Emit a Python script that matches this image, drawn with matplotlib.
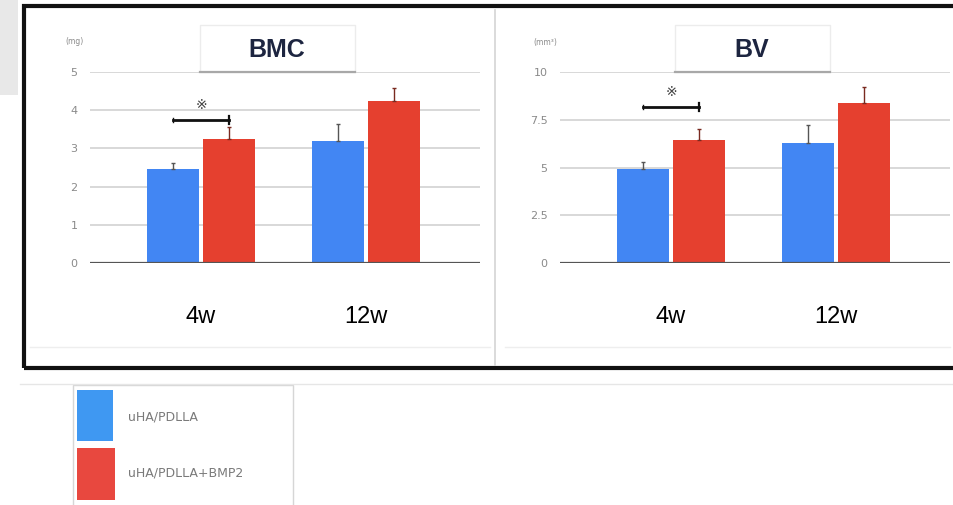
import matplotlib
matplotlib.use('Agg')
import matplotlib.pyplot as plt
from matplotlib.patches import Rectangle
from matplotlib.lines import Line2D
import numpy as np

W, H = 954, 505

groups = ['4w', '12w']
series = ['uHA/PDLLA', 'uHA/PDLLA+BMP2']

bmc_a = [2.45, 3.2]
bmc_a_err = [0.17, 0.44]
bmc_b = [3.25, 4.25]
bmc_b_err = [0.3, 0.34]

bv_a = [4.9, 6.3]
bv_a_err = [0.4, 0.95]
bv_b = [6.45, 8.4]
bv_b_err = [0.56, 0.8]

bmc_ticks = [0, 1, 2, 3, 4, 5]
bmc_ticklabels = ['0', '1', '2', '3', '4', '5']
bv_ticks = [0, 2.5, 5, 7.5, 10]
bv_ticklabels = ['0', '2.5', '5', '7.5', '10']

BLUE = '#4286f3'
RED = '#e5402f'


def fx(px):
    return px / W


def fy(py):
    return 1 - py / H


def frect(l, t, w, h, **kw):
    return Rectangle((fx(l), fy(t + h)), w / W, h / H, transform=fig.transFigure, **kw)


def fline(x0, y0, x1, y1, **kw):
    return Line2D([fx(x0), fx(x1)], [fy(y0), fy(y1)], transform=fig.transFigure, **kw)


fig = plt.figure(figsize=(W / 100, H / 100), dpi=100)
fig.patch.set_facecolor('white')

# grey block top-left, frame, divider
fig.add_artist(frect(0, 0, 18, 95, facecolor='#e8e8e8', edgecolor='none'))
fig.add_artist(fline(30, 347, 490, 347, color='#eeeeee', lw=1))
fig.add_artist(fline(505, 347, 950, 347, color='#eeeeee', lw=1))
fig.add_artist(fline(495, 10, 495, 365, color='#d4d4d4', lw=1.2))
fig.add_artist(frect(24, 6, 980, 362, facecolor='none', edgecolor='#111111', lw=3))
fig.add_artist(fline(20, 384, 954, 384, color='#e6e6e6', lw=1))


def panel(left, val_a, err_a, val_b, err_b, ymax, ticks, ticklabels,
          title, box_l, sig_y, star_y):
    # axes spans gridline region: x left..left+390, y 72..263
    ax = fig.add_axes([fx(left), fy(263), 390 / W, (263 - 72) / H])
    ax.set_xlim(-0.673, 1.691)
    ax.set_ylim(0, ymax)
    x = np.arange(len(groups))
    off = 0.168
    bw = 0.315
    ax.bar(x - off, val_a, bw, color=BLUE, zorder=3)
    ax.bar(x + off, val_b, bw, color=RED, zorder=3)
    ax.errorbar(x - off, val_a, yerr=[np.zeros(2), err_a], fmt='none',
                ecolor='#555555', elinewidth=1, capsize=1.5, zorder=4)
    ax.errorbar(x + off, val_b, yerr=[np.zeros(2), err_b], fmt='none',
                ecolor='#7a2a20', elinewidth=1, capsize=1.5, zorder=4)
    for t in ticks[1:]:
        ax.axhline(t, color='#d6d6d6', lw=1.3, zorder=1)
    ax.axhline(0, color='#555555', lw=1.6, zorder=5)
    for s in ax.spines.values():
        s.set_visible(False)
    ax.set_yticks(ticks)
    ax.set_yticklabels(ticklabels)
    ax.tick_params(axis='y', length=0, pad=9, labelsize=8, labelcolor='#8a8a8a')
    ax.set_xticks(x)
    ax.set_xticklabels(groups)
    ax.tick_params(axis='x', length=0, pad=31, labelsize=17, labelcolor='black')
    for lab in ax.get_xticklabels():
        lab.set_family(['Liberation Sans', 'DejaVu Sans'])

    # significance bracket between 4w bars
    ax.plot([-off, off], [sig_y, sig_y], color='#111111', lw=2, zorder=6)
    ax.plot([off, off], [sig_y - ymax * 0.02, sig_y + ymax * 0.02], color='#111111', lw=1.6, zorder=6)
    ax.plot([-off, -off], [sig_y - ymax * 0.012, sig_y + ymax * 0.012], color='#111111', lw=1, zorder=6)
    ax.text(0, star_y, '※', ha='center', va='center', fontsize=10, color='#444444',
            family=['DejaVu Sans', 'Noto Sans CJK JP'])

    # title box
    fig.add_artist(frect(box_l, 25, 155, 47, facecolor='white', edgecolor='#ececec', lw=1, zorder=2))
    fig.add_artist(fline(box_l, 72, box_l + 155, 72, color='#a8a8a8', lw=1.6, zorder=3))
    fig.text(fx(box_l + 77), fy(50), title, ha='center', va='center', fontsize=18,
             fontweight='bold', color='#1d2540', family='Liberation Sans')
    return ax


panel(90, bmc_a, bmc_a_err, bmc_b, bmc_b_err, 5, bmc_ticks, bmc_ticklabels,
      'BMC', 200, 3.74, 4.14)
fig.text(fx(75), fy(42), '(mg)', ha='center', va='center', fontsize=5.5, color='#8a8a8a')
panel(560, bv_a, bv_a_err, bv_b, bv_b_err, 10, bv_ticks, bv_ticklabels,
      'BV', 675, 8.17, 8.95)
fig.text(fx(545), fy(42), '(mm³)', ha='center', va='center', fontsize=5.5, color='#8a8a8a')

# legend box
fig.add_artist(frect(73, 385, 220, 125, facecolor='white', edgecolor='#d6d6d6', lw=1))
fig.add_artist(frect(77, 390, 36, 51, facecolor='#3f98f2', edgecolor='none'))
fig.add_artist(frect(77, 448, 38, 52, facecolor='#e8483f', edgecolor='none'))
fig.text(fx(128), fy(417), series[0], ha='left', va='center', fontsize=9, color='#7a7a7a')
fig.text(fx(128), fy(473), series[1], ha='left', va='center', fontsize=9, color='#7a7a7a')

fig.savefig('out.png', dpi=100)
